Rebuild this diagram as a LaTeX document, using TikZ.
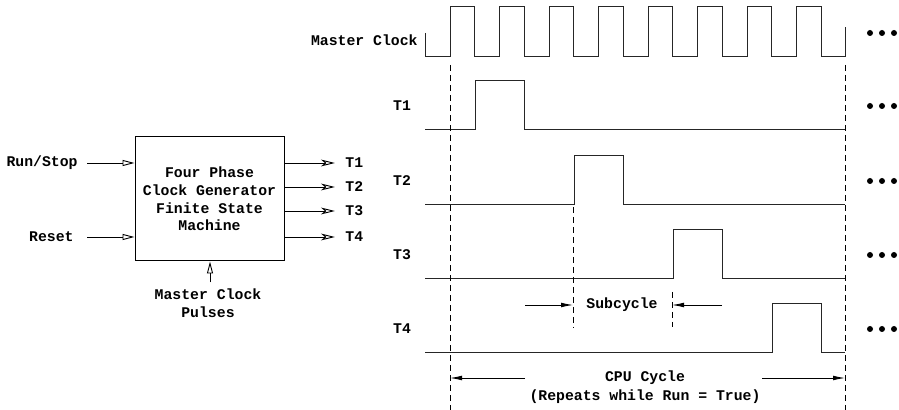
\documentclass[tikz,border=0pt]{standalone}
\usepackage{fontspec}
\setmainfont{Liberation Mono}
\usetikzlibrary{arrows.meta}
\tikzset{
  lbl/.style={font=\fontsize{7.4}{8.8}\selectfont\bfseries,inner sep=1pt,
    align=center},
  fsmbox/.style={draw,line width=.5pt,minimum width=74.5pt,
    minimum height=62pt,lbl},
  inarrow/.style={-{Triangle[open,length=6pt,width=3pt]},line width=.45pt},
  outarrow/.style={-{Stealth[open,length=7pt,width=3.4pt,inset=2pt]},
    line width=.45pt},
  wave/.style={line width=.5pt,draw=black!85},
  guide/.style={dash pattern=on 3pt off 2pt,line width=.4pt},
  span/.style={-{Latex[length=6pt,width=2.4pt]},line width=.45pt}}

\begin{document}
\begin{tikzpicture}[x=0.5pt,y=-0.5pt]
  \useasboundingbox (0,0) rectangle (899,410);

  % state machine block
  \node[fsmbox] (fsm) at (209.5,199)
    {Four Phase\\Clock Generator\\Finite State\\Machine};
  \node[lbl,anchor=east] (run) at (80,163) {Run/Stop};
  \node[lbl,anchor=east] (rst) at (76,237) {Reset};
  \draw[inarrow] ([xshift=3.5pt]run.east) -- (run.east -| fsm.west);
  \draw[inarrow] ([xshift=5.5pt]rst.east) -- (rst.east -| fsm.west);
  \foreach \i/\y in {1/163,2/187,3/211,4/237}{
    \node[lbl,anchor=west] (out\i) at (343,\y) {T\i};
    \draw[outarrow,shorten >=4pt] (out\i.west -| fsm.east) -- (out\i.west);
  }
  \node[lbl] (pulses) at (208,303) {Master Clock\\Pulses};
  \draw[inarrow] ([xshift=1pt,yshift=2pt]pulses.north)
    -- ([xshift=1pt]pulses.north |- fsm.south);

  % timing diagram
  \node[lbl,anchor=east] (mclk) at (420,40) {Master Clock};
  \node[lbl] (t1) at (402,106) {T1};
  \node[lbl] (t2) at (402,181) {T2};
  \node[lbl] (t3) at (402,255) {T3};
  \node[lbl] (t4) at (402,329) {T4};

  \draw[wave] (425,33) -- (425,57) -- (450,57);
  \foreach \i in {0,...,7}
    \draw[wave] (450+\i*49.5,57) -- ++(0,-50) -- ++(24.75,0)
      -- ++(0,50) -- ++(24.75,0);
  \draw[wave] (845,57) -- (845,27);

  \foreach \k/\y in {1/130,2/205,3/279,4/353}{
    \pgfmathsetmacro\rise{475+(2*\k-2)*49.5}
    \draw[wave] (425,\y) -- (\rise,\y) -- (\rise,\y-49)
      -- (\rise+49.5,\y-49) -- (\rise+49.5,\y) -- (845,\y);
  }

  \foreach \y in {33,106,181,255,329}
    \foreach \x in {870,882,894}
      \fill (\x,\y) circle (1.5pt);

  % cycle markers
  \draw[guide] (450,65) -- (450,410);
  \draw[guide] (845,65) -- (845,410);
  \draw[guide] (573,207) -- (573,328);
  \draw[guide] (672,292) -- (672,327);

  \node[lbl] (sub) at (622,305) {Subcycle};
  \coordinate (subL) at (525,305);
  \coordinate (subR) at (722,305);
  \draw[span] (subL) -- (573,305);
  \draw[span] (subR) -- (672,305);

  \node[lbl] (cpu) at (645,378) {CPU Cycle};
  \node[lbl] (rep) at (645,397) {(Repeats while Run = True)};
  \coordinate (cpuL) at (525,378);
  \coordinate (cpuR) at (762,378);
  \draw[span] (cpuL) -- (450,378);
  \draw[span] (cpuR) -- (845,378);
\end{tikzpicture}
\end{document}
